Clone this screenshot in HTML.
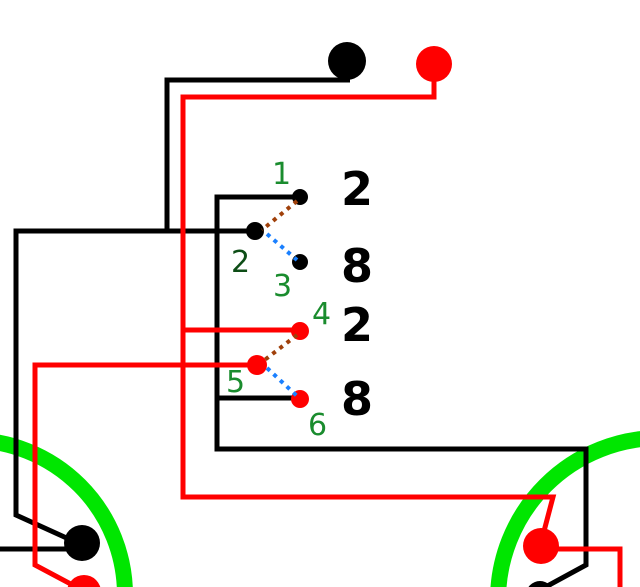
<!DOCTYPE html>
<html><head><meta charset="utf-8"><style>
html,body{margin:0;padding:0;background:#fff;width:640px;height:587px;overflow:hidden;}
svg{display:block;}
text{font-family:"DejaVu Sans","Liberation Sans",sans-serif;}
</style></head><body>
<svg width="640" height="587" viewBox="0 0 640 587" xmlns="http://www.w3.org/2000/svg" overflow="hidden">
<rect width="640" height="587" fill="#fff"/>
<circle cx="-30" cy="595" r="155" fill="none" stroke="#00e600" stroke-width="16"/>
<circle cx="660" cy="600" r="162" fill="none" stroke="#00e600" stroke-width="16"/>
<g fill="none" stroke-width="5" stroke-linejoin="miter">
<polyline stroke="#000" points="350,80 167,80 167,231"/>
<polyline stroke="#000" points="255,231 16,231 16,515 82,545"/>
<polyline stroke="#000" points="0,549 82,549"/>
<polyline stroke="#000" points="300,197 217,197 217,449 586,449 586,565 540,590"/>
<polyline stroke="#000" points="217,398 300,398"/>
<polyline stroke="#f00" points="434,64 434,97 183,97 183,497 553,497 543,535"/>
<polyline stroke="#f00" points="183,330 300,330"/>
<polyline stroke="#f00" points="257,365 35,365 35,565 82,590"/>
<polyline stroke="#f00" points="541,549 620,549 620,587"/>
</g>
<circle cx="347" cy="61" r="19" fill="#000"/>
<circle cx="434" cy="64" r="18" fill="#f00"/>
<circle cx="82" cy="543" r="18" fill="#000"/>
<circle cx="84" cy="592" r="17" fill="#f00"/>
<circle cx="541" cy="546" r="18" fill="#f00"/>
<circle cx="540" cy="595" r="14" fill="#000"/>
<circle cx="300" cy="197" r="8" fill="#000"/>
<circle cx="255" cy="231" r="9" fill="#000"/>
<circle cx="300" cy="262" r="8" fill="#000"/>
<circle cx="300" cy="331" r="9" fill="#f00"/>
<circle cx="257" cy="365" r="10" fill="#f00"/>
<circle cx="300" cy="399" r="9" fill="#f00"/>
<g stroke-width="4" stroke-dasharray="4,5" fill="none">
<line x1="297" y1="201" x2="262" y2="230" stroke="#a0400a"/>
<line x1="267" y1="234" x2="297" y2="260" stroke="#1a80ff"/>
<line x1="297" y1="335" x2="262" y2="362" stroke="#a0400a"/>
<line x1="267" y1="368" x2="297" y2="396" stroke="#1a80ff"/>
</g>
<g font-size="30" fill="#1a8c2e">
<text x="272" y="184">1</text>
<text x="231" y="272" fill="#0d4d16">2</text>
<text x="273" y="296">3</text>
<text x="312" y="324">4</text>
<text x="226" y="392">5</text>
<text x="308" y="435">6</text>
</g>
<g font-size="46" font-weight="bold" fill="#000">
<text x="341" y="205">2</text>
<text x="341" y="282">8</text>
<text x="341" y="341">2</text>
<text x="341" y="415">8</text>
</g>
</svg>
</body></html>
